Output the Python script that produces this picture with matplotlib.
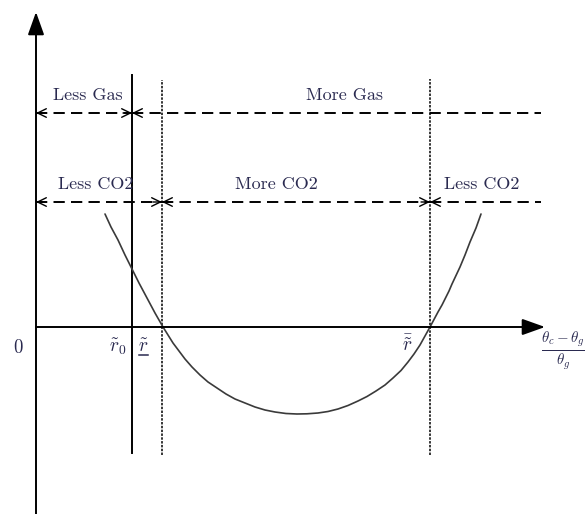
"""Schematic: gas / CO2 regimes along the (theta_c - theta_g)/theta_g axis."""

import matplotlib.pyplot as plt

plt.rcParams["mathtext.fontset"] = "cm"

# key points on the horizontal axis (schematic units)
r0 = 96
r_low = 126
r_high = 394
axis_end = 509
axis_top = 315
axis_bottom = -187

# heights of the two regime bars and where they stop on the right
gas_level = 214
co2_level = 125
band_end = 505

# vertical guide lines: (x, bottom, top)
r0_line = (r0, -126, 252)
guide_lines = [(r_low, -128, 247), (r_high, -128, 248)]

# curve
curve_x = [69, 75, 82, 89, 96, 103, 111, 119, 127, 132, 137, 143, 149, 156, 164,
           172, 181, 190, 199, 209, 219, 229, 239, 250, 261, 271, 282, 292, 302,
           312, 322, 331, 340, 349, 357, 365, 372, 378, 384, 389, 394, 398, 402,
           406, 409, 413, 416, 420, 424, 429, 434, 440, 445]
curve_y = [113, 100, 87, 72, 58, 44, 29, 14, 0, -8, -16, -24, -32, -40, -48,
           -55, -61, -67, -72, -76, -80, -83, -85, -86.5, -87, -86.8, -86, -84.5,
           -82, -78.5, -74, -69.5, -64, -58, -51, -43.5, -35, -27, -18, -9, 0,
           7.5, 15, 22, 28, 36, 43, 51.5, 60, 72, 85, 99, 113]

# regime bars: (start, stop, label, label x, arrow at start, arrow at stop)
gas_bands = [
    (0, r0, "Less Gas", 52, True, True),
    (r0, band_end, "More Gas", 309, True, False),
]
co2_bands = [
    (0, r_low, "Less CO2", 60, True, True),
    (r_low, r_high, "More CO2", 240, True, True),
    (r_high, band_end, "Less CO2", 446, True, False),
]

TEXT = "#2a2a50"
SERIF = "cmr10"

fig = plt.figure(figsize=(5.85, 5.14), dpi=100)
ax = fig.add_axes([0, 0, 1, 1])
ax.set_xlim(-36, 549)
ax.set_ylim(-187, 327)
ax.axis("off")

big_head = dict(arrowstyle="-|>,head_length=0.7,head_width=0.25", color="black",
                lw=1.4, mutation_scale=20, shrinkA=0, shrinkB=0)
ax.annotate("", xy=(0, axis_top), xytext=(0, axis_bottom), arrowprops=big_head)
ax.annotate("", xy=(axis_end, 0), xytext=(0, 0), arrowprops=big_head)

# vertical lines
ax.plot([r0_line[0]] * 2, r0_line[1:], color="black", lw=1.4)
for x, lo, hi in guide_lines:
    ax.plot([x, x], [lo, hi], color="black", lw=1.1, linestyle=(0, (1.6, 0.9)))

# curve
ax.plot(curve_x, curve_y, color="#3a3a3a", lw=1.2, solid_joinstyle="round",
        solid_capstyle="round")

small_head = dict(arrowstyle="->,head_length=0.45,head_width=0.22", color="black",
                  lw=1.0, mutation_scale=14, shrinkA=0, shrinkB=0)


def draw_bands(bands, level):
    for start, stop, label, lx, head_start, head_stop in bands:
        ax.plot([start, stop], [level, level], color="black", lw=1.4,
                dashes=(5.8, 3.2))
        if head_start:
            ax.annotate("", xy=(start, level), xytext=(start + 9, level),
                        arrowprops=small_head)
        if head_stop:
            ax.annotate("", xy=(stop, level), xytext=(stop - 9, level),
                        arrowprops=small_head)
        ax.text(lx, level + 18, label, fontsize=13, family=SERIF, color=TEXT,
                ha="center", va="center")


draw_bands(gas_bands, gas_level)
draw_bands(co2_bands, co2_level)

# axis labels
ax.text(-18, -21, "0", fontsize=13.5, family=SERIF, color=TEXT, ha="center", va="center")
ax.text(r0 - 14, -20, r"$\tilde{r}_0$", fontsize=14, color=TEXT, ha="center", va="center")
lx, ly = r_low - 19, -20
ax.text(lx, ly, r"$\tilde{r}$", fontsize=14, color=TEXT, ha="center", va="center")
ax.plot([lx - 4.5, lx + 4.5], [ly - 7.5, ly - 7.5], color=TEXT, lw=1.1)
ax.text(r_high - 22, -18, r"$\bar{\tilde{r}}$", fontsize=14, color=TEXT,
        ha="center", va="center")
ax.text(527, -24, r"$\frac{\theta_c-\theta_g}{\theta_g}$", fontsize=15.5, color=TEXT,
        ha="center", va="center")

fig.savefig("out.png", dpi=100)
